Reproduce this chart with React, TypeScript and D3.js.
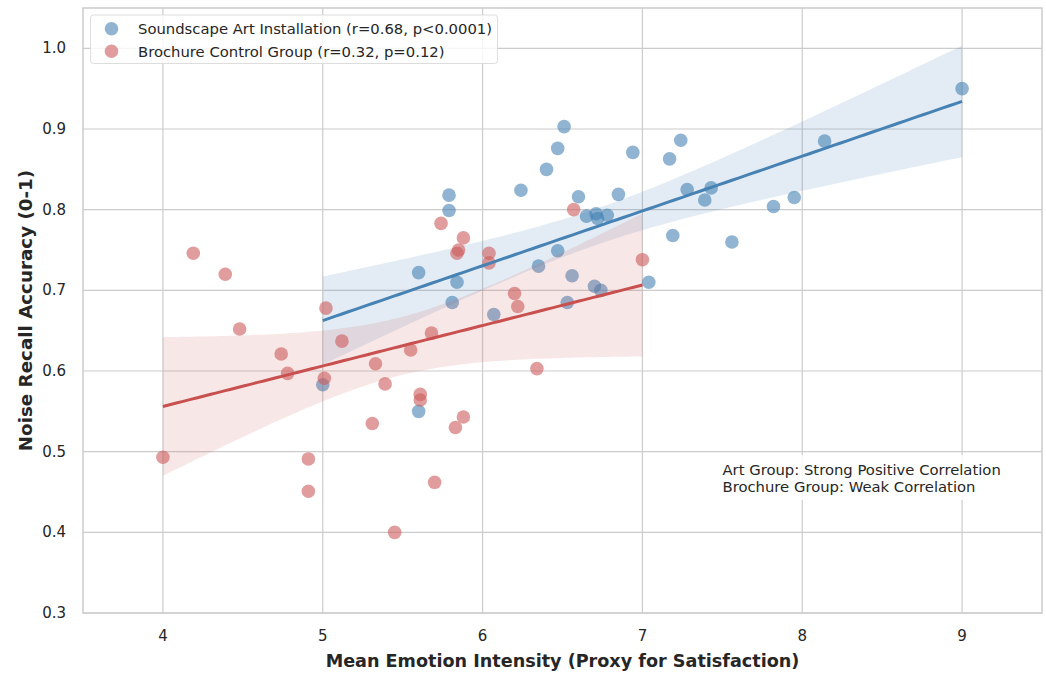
import React from "react";
import * as d3 from "d3";

// Soundscape art installation group: [emotion intensity, recall accuracy]
const artX = [5.0, 5.6, 5.6, 5.79, 5.79, 5.81, 5.84, 6.07, 6.24, 6.35, 6.4, 6.47, 6.47, 6.51, 6.53, 6.56, 6.6, 6.65, 6.7, 6.71, 6.72, 6.74, 6.78, 6.85, 6.94, 7.04, 7.17, 7.19, 7.24, 7.28, 7.39, 7.43, 7.56, 7.82, 7.95, 8.14, 9.0];
const artY = [0.583, 0.55, 0.722, 0.818, 0.799, 0.685, 0.71, 0.67, 0.824, 0.73, 0.85, 0.876, 0.749, 0.903, 0.685, 0.718, 0.816, 0.792, 0.705, 0.795, 0.789, 0.7, 0.793, 0.819, 0.871, 0.71, 0.863, 0.768, 0.886, 0.825, 0.812, 0.827, 0.76, 0.804, 0.815, 0.885, 0.95];

// Brochure control group
const broX = [4.0, 4.19, 4.39, 4.48, 4.74, 4.78, 4.91, 4.91, 5.01, 5.02, 5.12, 5.31, 5.33, 5.39, 5.45, 5.55, 5.61, 5.61, 5.68, 5.7, 5.74, 5.83, 5.84, 5.85, 5.88, 5.88, 6.04, 6.04, 6.2, 6.22, 6.34, 6.57, 7.0];
const broY = [0.493, 0.746, 0.72, 0.652, 0.621, 0.597, 0.491, 0.451, 0.591, 0.678, 0.637, 0.535, 0.609, 0.584, 0.4, 0.626, 0.571, 0.564, 0.647, 0.462, 0.783, 0.53, 0.746, 0.75, 0.765, 0.543, 0.746, 0.734, 0.696, 0.68, 0.603, 0.8, 0.738];

const xTicks = [4, 5, 6, 7, 8, 9];
const yTicks = [0.3, 0.4, 0.5, 0.6, 0.7, 0.8, 0.9, 1.0];

const legendLabels = [
  "Soundscape Art Installation (r=0.68, p<0.0001)",
  "Brochure Control Group (r=0.32, p=0.12)",
];
const noteLines = ["Art Group: Strong Positive Correlation", "Brochure Group: Weak Correlation"];

const W = 1046;
const H = 673;
const M = { left: 83, right: 1042, top: 8, bottom: 613 };
const FONT = "DejaVu Sans, sans-serif";
const TEXT = "#262626";
const GRID = "#cccccc";
const BLUE = "#4682b4";
const RED = "#cd5c5c";
const RED_LINE = "#c8504f";

// Least-squares fit with a 95% confidence band over the data's x range
function fit(xs: number[], ys: number[]) {
  const n = xs.length;
  const mx = d3.mean(xs)!;
  const my = d3.mean(ys)!;
  let sxx = 0, sxy = 0;
  for (let i = 0; i < n; i++) {
    sxx += (xs[i] - mx) ** 2;
    sxy += (xs[i] - mx) * (ys[i] - my);
  }
  const b = sxy / sxx;
  const a = my - b * mx;
  let sse = 0;
  for (let i = 0; i < n; i++) sse += (ys[i] - (a + b * xs[i])) ** 2;
  const s = Math.sqrt(sse / (n - 2));
  const t = 1.96 + 2.4 / (n - 2);
  const [x0, x1] = d3.extent(xs) as [number, number];
  const grid = d3.range(0, 101).map((i) => x0 + ((x1 - x0) * i) / 100);
  return grid.map((x) => {
    const yh = a + b * x;
    const se = s * Math.sqrt(1 / n + (x - mx) ** 2 / sxx);
    return { x, y: yh, lo: yh - t * se, hi: yh + t * se };
  });
}

export default function App() {
  const x = d3.scaleLinear().domain([3.5, 9.5]).range([M.left, M.right]);
  const y = d3.scaleLinear().domain([0.3, 1.05]).range([M.bottom, M.top]);

  const artFit = fit(artX, artY);
  const broFit = fit(broX, broY);

  const line = d3.line<{ x: number; y: number }>().x((d) => x(d.x)).y((d) => y(d.y));
  const band = d3
    .area<{ x: number; lo: number; hi: number }>()
    .x((d) => x(d.x))
    .y0((d) => y(d.lo))
    .y1((d) => y(d.hi));

  const r = 6.8;

  return (
    <svg
      width={W}
      height={H}
      style={{ position: "absolute", left: 0, top: 0, background: "#fff" }}
      fontFamily={FONT}
    >
      <rect x={0} y={0} width={W} height={H} fill="#fff" />
      {/* grid */}
      {xTicks.map((t) => (
        <line key={"gx" + t} x1={x(t)} x2={x(t)} y1={M.top} y2={M.bottom} stroke={GRID} strokeWidth={1.2} />
      ))}
      {yTicks.map((t) => (
        <line key={"gy" + t} x1={M.left} x2={M.right} y1={y(t)} y2={y(t)} stroke={GRID} strokeWidth={1.2} />
      ))}

      {/* art group */}
      {artX.map((v, i) => (
        <circle key={"a" + i} cx={x(v)} cy={y(artY[i])} r={r} fill={BLUE} fillOpacity={0.6} />
      ))}
      <path d={band(artFit)!} fill={BLUE} fillOpacity={0.15} />

      {/* brochure group */}
      {broX.map((v, i) => (
        <circle key={"b" + i} cx={x(v)} cy={y(broY[i])} r={r} fill={RED} fillOpacity={0.6} />
      ))}
      <path d={band(broFit)!} fill={RED} fillOpacity={0.15} />

      <path d={line(artFit)!} fill="none" stroke={BLUE} strokeWidth={3} />
      <path d={line(broFit)!} fill="none" stroke={RED_LINE} strokeWidth={3} />

      {/* frame */}
      <rect
        x={M.left}
        y={M.top}
        width={M.right - M.left}
        height={M.bottom - M.top}
        fill="none"
        stroke={GRID}
        strokeWidth={1.5}
      />

      {/* ticks */}
      {xTicks.map((t) => (
        <text key={"tx" + t} x={x(t)} y={641} textAnchor="middle" fontSize={15} fill={TEXT}>
          {t}
        </text>
      ))}
      {yTicks.map((t) => (
        <text key={"ty" + t} x={66} y={y(t) + 5} textAnchor="end" fontSize={15} fill={TEXT}>
          {t.toFixed(1)}
        </text>
      ))}

      {/* axis titles */}
      <text x={(M.left + M.right) / 2} y={667} textAnchor="middle" fontSize={17.6} fontWeight="bold" fill={TEXT}>
        Mean Emotion Intensity (Proxy for Satisfaction)
      </text>
      <text
        transform={`translate(32,${(M.top + M.bottom) / 2}) rotate(-90)`}
        textAnchor="middle"
        fontSize={18.3}
        fontWeight="bold"
        fill={TEXT}
      >
        Noise Recall Accuracy (0-1)
      </text>

      {/* note */}
      <rect x={716} y={455} width={292} height={45} fill="#fff" fillOpacity={0.85} />
      {noteLines.map((s, i) => (
        <text key={"n" + i} x={722.5} y={475 + i * 17.4} fontSize={14.8} fill={TEXT}>
          {s}
        </text>
      ))}

      {/* legend */}
      <rect x={90.5} y={15} width={407} height={48.5} rx={3} fill="#fff" fillOpacity={0.8} stroke="#dddddd" strokeWidth={1} />
      {legendLabels.map((s, i) => (
        <g key={"l" + i}>
          <circle cx={111.5} cy={28.7 + i * 22.5} r={r} fill={i === 0 ? BLUE : RED} fillOpacity={0.6} />
          <text x={138} y={34 + i * 22.5} fontSize={14.8} fill={TEXT}>
            {s}
          </text>
        </g>
      ))}
    </svg>
  );
}
